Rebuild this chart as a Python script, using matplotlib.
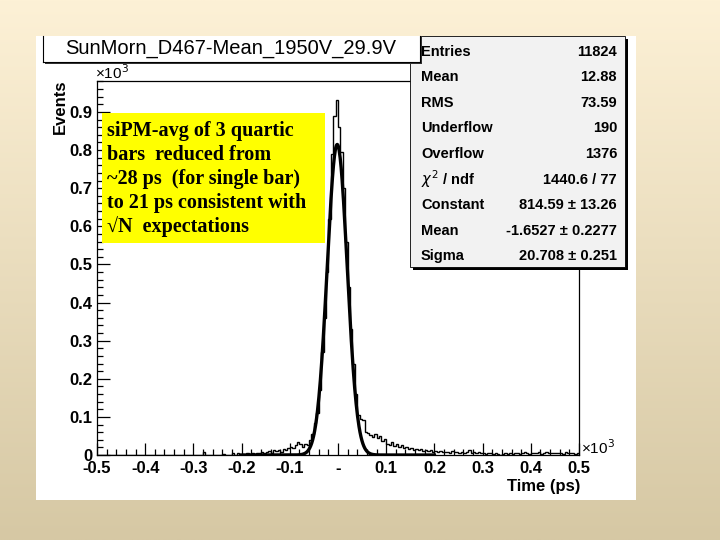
import numpy as np
import matplotlib
matplotlib.use("Agg")
import matplotlib.pyplot as plt
from matplotlib.patches import Rectangle
from matplotlib.lines import Line2D
from matplotlib.ticker import FixedLocator, FixedFormatter, MultipleLocator

# histogram: 200 bins of 5 ps from -500 to 500 ps, counts per bin
counts = [
    0, 0, 0, 0, 0, 0, 0, 0, 0, 0,          # -500..-450
    0, 0, 0, 0, 0, 0, 0, 0, 0, 0,          # -450..-400
    0, 0, 0, 0, 0, 0, 0, 0, 0, 0,          # -400..-350
    0, 0, 0, 0, 0, 0, 0, 0, 0, 0,          # -350..-300
    0, 0, 0, 0, 8, 0, 0, 0, 0, 0,          # -300..-250
    0, 0, 3, 0, 0, 0, 6, 0, 4, 0,          # -250..-200
    3, 0, 4, 2, 5, 3, 6, 4, 8, 5,          # -200..-150
    8, 10, 6, 12, 10, 14, 9, 16, 12, 18,   # -150..-100
    20, 18, 26, 35, 30, 22, 28, 26, 40, 55,  # -100..-50
    85, 110, 170, 270, 360, 480, 620, 790, 890, 930,  # -50..0
    860, 795, 700, 560, 440, 330, 240, 160, 105, 95,  # 0..50
    92, 60, 58, 52, 48, 55, 45, 50, 38, 42,  # 50..100
    30, 26, 35, 24, 28, 20, 25, 18, 22, 15,  # 100..150
    18, 14, 16, 12, 15, 11, 14, 10, 12, 9,   # 150..200
    10, 8, 11, 7, 9, 8, 6, 10, 7, 8,         # 200..250
    6, 9, 5, 8, 12, 6, 7, 5, 8, 4,           # 250..300
    5, 3, 6, 4, 2, 5, 3, 0, 2, 4,            # 300..350
    3, 5, 2, 6, 4, 3, 5, 7, 4, 3,            # 350..400
    5, 6, 4, 7, 3, 5, 8, 4, 6, 5,            # 400..450
    4, 6, 5, 3, 7, 4, 6, 5, 2, 6,            # 450..500
]
x_low, x_high = -500, 500

# gaussian fit parameters (from stats box)
fit_const = 814.59
fit_mean = -1.6527
fit_sigma = 20.708
fit_range = (-200, 200)

title = "SunMorn_D467-Mean_1950V_29.9V"
stats_names = ["Entries", "Mean", "RMS", "Underflow", "Overflow",
               r"$\chi^2$ / ndf", "Constant", "Mean", "Sigma"]
stats_values = ["11824", "12.88", "73.59", "190", "1376", "1440.6 / 77",
                "814.59 \u00b1 13.26", "-1.6527 \u00b1 0.2277", "20.708 \u00b1 0.251"]
note_lines = ["siPM-avg of 3 quartic",
              "bars  reduced from",
              "~28 ps  (for single bar)",
              "to 21 ps consistent with",
              "\u221aN  expectations"]
xtick_vals = [-0.5, -0.4, -0.3, -0.2, -0.1, 0.0, 0.1, 0.2, 0.3, 0.4, 0.5]
xtick_labels = ["-0.5", "-0.4", "-0.3", "-0.2", "-0.1", "-", "0.1", "0.2", "0.3", "0.4", "0.5"]
ytick_vals = [0, 0.1, 0.2, 0.3, 0.4, 0.5, 0.6, 0.7, 0.8, 0.9]
ytick_labels = ["0", "0.1", "0.2", "0.3", "0.4", "0.5", "0.6", "0.7", "0.8", "0.9"]

W, H = 720, 540


def px(x, y):
    return x / W, 1 - y / H


fig = plt.figure(figsize=(7.2, 5.4), dpi=100)

# slide background gradient
bg = fig.add_axes([0, 0, 1, 1], zorder=-10)
top_c = np.array([253, 241, 214]) / 255
bot_c = np.array([214, 200, 164]) / 255
t = np.linspace(0, 1, 256)[:, None, None]
grad = top_c * (1 - t) + bot_c * t
bg.imshow(np.repeat(grad, 2, axis=1), aspect="auto", extent=[0, 1, 0, 1])
bg.axis("off")

# white canvas
fig.patches.append(Rectangle(px(36, 500), 600 / W, 464 / H, transform=fig.transFigure,
                             facecolor="white", edgecolor="none", zorder=-5))

ax = fig.add_axes([97 / W, 1 - 455 / H, (579 - 97) / W, (455 - 81) / H])
ax.set_facecolor("white")
edges = np.linspace(x_low, x_high, len(counts) + 1) / 1000
ax.stairs(np.array(counts) / 1000, edges, color="black", lw=1.0)

xf = np.linspace(fit_range[0], fit_range[1], 400)
yf = fit_const * np.exp(-0.5 * ((xf - fit_mean) / fit_sigma) ** 2)
ax.plot(xf / 1000, yf / 1000, color="black", lw=2.4)

ax.set_xlim(-0.5, 0.5)
ax.set_ylim(0, 0.981)
ax.xaxis.set_major_locator(FixedLocator(xtick_vals))
ax.xaxis.set_major_formatter(FixedFormatter(xtick_labels))
ax.yaxis.set_major_locator(FixedLocator(ytick_vals))
ax.yaxis.set_major_formatter(FixedFormatter(ytick_labels))
ax.xaxis.set_minor_locator(MultipleLocator(0.02))
ax.yaxis.set_minor_locator(MultipleLocator(0.02))
ax.tick_params(which="both", direction="in", top=False, right=False, width=0.9)
ax.tick_params(which="major", length=9)
ax.tick_params(which="minor", length=4.5)
ax.tick_params(axis="x", pad=4)
ax.tick_params(axis="y", pad=3)
for lab in ax.get_xticklabels() + ax.get_yticklabels():
    lab.set_fontfamily("Liberation Sans")
    lab.set_fontweight("bold")
    lab.set_fontsize(12)
for s in ax.spines.values():
    s.set_linewidth(0.9)

fig.text(*px(95, 73), "\u00d710$^{3}$", fontsize=11, family="Liberation Sans",
         ha="left", va="center")
fig.text(*px(581, 448), "\u00d710$^{3}$", fontsize=11, family="Liberation Sans",
         ha="left", va="center")
fig.text(*px(60, 80), "Events", rotation=90, fontsize=12, fontweight="bold",
         family="Liberation Sans", ha="center", va="top")
fig.text(*px(580, 486), "Time (ps)", fontsize=12, fontweight="bold",
         family="Liberation Sans", ha="right", va="center")

# yellow annotation box
fig.patches.append(Rectangle(px(102, 243), 223 / W, 130 / H, transform=fig.transFigure,
                             facecolor="#ffff00", edgecolor="none", zorder=5))
for i, line in enumerate(note_lines):
    fig.text(*px(107, 131 + 24 * i), line, fontsize=14.5, fontweight="bold",
             family=["Liberation Serif", "DejaVu Serif"], ha="left", va="center", zorder=6)

# stats box with shadow
fig.patches.append(Rectangle(px(413, 270), 215 / W, 231 / H, transform=fig.transFigure,
                             facecolor="black", edgecolor="none", zorder=7))
fig.patches.append(Rectangle(px(410, 267), 215 / W, 231 / H, transform=fig.transFigure,
                             facecolor="#f2f2f2", edgecolor="black", lw=0.6, zorder=8))
for i, (name, val) in enumerate(zip(stats_names, stats_values)):
    y = 51.5 + 25.6 * i
    fig.text(*px(421, y), name, fontsize=10.5, fontweight="bold",
             family="Liberation Sans", ha="left", va="center", zorder=9)
    fig.text(*px(617, y), val, fontsize=10.5, fontweight="bold",
             family="Liberation Sans", ha="right", va="center", zorder=9)

# title box (top cut by the canvas edge), with shadow
fig.patches.append(Rectangle(px(45, 64), 377 / W, 28 / H, transform=fig.transFigure,
                             facecolor="#333333", edgecolor="none", zorder=10))
fig.patches.append(Rectangle(px(43, 62), 377 / W, 26 / H, transform=fig.transFigure,
                             facecolor="white", edgecolor="none", zorder=11))
for (xa, ya), (xb, yb) in [((43, 36), (43, 62)), ((43, 62), (420, 62)), ((420, 62), (420, 36))]:
    fig.lines.append(Line2D([xa / W, xb / W], [1 - ya / H, 1 - yb / H],
                            transform=fig.transFigure, color="black", lw=0.8, zorder=12))
fig.text(*px(231, 49), title, fontsize=14.5, family="Liberation Sans",
         ha="center", va="center", zorder=13)

fig.savefig("out.png", dpi=100)
